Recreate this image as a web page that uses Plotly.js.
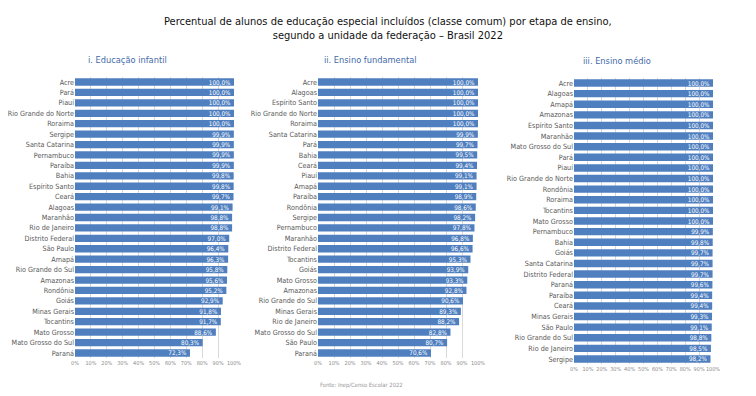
<!DOCTYPE html>
<html>
<head>
<meta charset="utf-8">
<script src="https://cdn.plot.ly/plotly-3.0.1.min.js"></script>
<style>html,body{margin:0;padding:0;background:#fff;}#chart{width:756px;height:396px;}</style>
</head>
<body>
<div id="chart"></div>
<script>
// i. Educação infantil
const infantilStates = ["Acre","Pará","Piauí","Rio Grande do Norte","Roraima","Sergipe","Santa Catarina","Pernambuco","Paraíba","Bahia","Espírito Santo","Ceará","Alagoas","Maranhão","Rio de Janeiro","Distrito Federal","São Paulo","Amapá","Rio Grande do Sul","Amazonas","Rondônia","Goiás","Minas Gerais","Tocantins","Mato Grosso","Mato Grosso do Sul","Paraná"];
const infantilValues = [100.0,100.0,100.0,100.0,100.0,99.9,99.9,99.9,99.9,99.8,99.8,99.7,99.1,98.8,98.8,97.0,96.4,96.3,95.8,95.6,95.2,92.9,91.8,91.7,88.6,80.3,72.3];

// ii. Ensino fundamental
const fundamentalStates = ["Acre","Alagoas","Espírito Santo","Rio Grande do Norte","Roraima","Santa Catarina","Pará","Bahia","Ceará","Piauí","Amapá","Paraíba","Rondônia","Sergipe","Pernambuco","Maranhão","Distrito Federal","Tocantins","Goiás","Mato Grosso","Amazonas","Rio Grande do Sul","Minas Gerais","Rio de Janeiro","Mato Grosso do Sul","São Paulo","Paraná"];
const fundamentalValues = [100.0,100.0,100.0,100.0,100.0,99.9,99.7,99.5,99.4,99.1,99.1,98.9,98.6,98.2,97.8,96.8,96.6,95.3,93.9,93.3,92.8,90.6,89.3,88.2,82.8,80.7,70.6];

// iii. Ensino médio
const medioStates = ["Acre","Alagoas","Amapá","Amazonas","Espírito Santo","Maranhão","Mato Grosso do Sul","Pará","Piauí","Rio Grande do Norte","Rondônia","Roraima","Tocantins","Mato Grosso","Pernambuco","Bahia","Goiás","Santa Catarina","Distrito Federal","Paraná","Paraíba","Ceará","Minas Gerais","São Paulo","Rio Grande do Sul","Rio de Janeiro","Sergipe"];
const medioValues = [100.0,100.0,100.0,100.0,100.0,100.0,100.0,100.0,100.0,100.0,100.0,100.0,100.0,100.0,99.9,99.8,99.7,99.7,99.7,99.6,99.4,99.4,99.3,99.1,98.8,98.5,98.2];

const tickVals = [0,10,20,30,40,50,60,70,80,90,100];
const tickText = ["0%","10%","20%","30%","40%","50%","60%","70%","80%","90%","100%"];

const FONT = "DejaVu Sans Condensed, Liberation Sans Narrow, Liberation Sans, sans-serif";
const BAR = "#4f7fbf";

function barTrace(states, values, xa, ya){
  return {
    type:"bar", orientation:"h", x:values, y:states, xaxis:xa, yaxis:ya,
    marker:{color:BAR, line:{width:0}},
    texttemplate:"%{x:.1f}%", textposition:"inside", insidetextanchor:"end",
    textangle:0, constraintext:"none",
    textfont:{color:"#ffffff", size:6.3, family:FONT},
    hoverinfo:"skip", showlegend:false
  };
}

const data = [
  barTrace(infantilStates, infantilValues, "x", "y"),
  barTrace(fundamentalStates, fundamentalValues, "x2", "y2"),
  barTrace(medioStates, medioValues, "x3", "y3")
];

function xax(dom, anchor){
  return {domain:dom, anchor:anchor, range:[0,100], tickvals:tickVals, ticktext:tickText,
    tickangle:0, automargin:false,
    showgrid:true, gridcolor:"#d9d9d9", gridwidth:1, zeroline:false, showline:false,
    ticks:"", tickfont:{size:5.5, color:"#8c8c8c", family:FONT}, fixedrange:true};
}
function yax(dom, anchor){
  return {domain:dom, anchor:anchor, type:"category", autorange:"reversed", automargin:false,
    showgrid:false, zeroline:false, showline:false, ticks:"", ticklen:0,
    tickfont:{size:7.2, color:"#595959", family:FONT}, fixedrange:true};
}

const layout = {
  width:756, height:396,
  margin:{l:0, r:0, t:0, b:0},
  paper_bgcolor:"#ffffff", plot_bgcolor:"rgba(0,0,0,0)",
  separators:",.",
  bargap:0.3,
  font:{family:FONT},
  xaxis: xax([75/756, 234/756], "y"),
  yaxis: yax([1-358.2/396, 1-76.8/396], "x"),
  xaxis2: xax([318/756, 478/756], "y2"),
  yaxis2: yax([1-358.2/396, 1-76.8/396], "x2"),
  xaxis3: xax([574/756, 713/756], "y3"),
  yaxis3: yax([1-364.3/396, 1-77.7/396], "x3"),
  annotations:[
    {text:"Percentual de alunos de educação especial incluídos (classe comum) por etapa de ensino,<br>segundo a unidade da federação – Brasil 2022",
     xref:"paper", yref:"paper", x:388/756, y:1-28.5/396, xanchor:"center", yanchor:"middle",
     showarrow:false, font:{size:11, color:"#111111", family:FONT}},
    {text:"i. Educação infantil", xref:"paper", yref:"paper", x:127/756, y:1-60/396,
     xanchor:"center", yanchor:"middle", showarrow:false, font:{size:9.2, color:"#3f6aa8", family:FONT}},
    {text:"ii. Ensino fundamental", xref:"paper", yref:"paper", x:370/756, y:1-60/396,
     xanchor:"center", yanchor:"middle", showarrow:false, font:{size:9.2, color:"#3f6aa8", family:FONT}},
    {text:"iii. Ensino médio", xref:"paper", yref:"paper", x:617/756, y:1-61/396,
     xanchor:"center", yanchor:"middle", showarrow:false, font:{size:9.2, color:"#3f6aa8", family:FONT}},
    {text:"Fonte: Inep/Censo Escolar 2022", xref:"paper", yref:"paper", x:361/756, y:1-385/396,
     xanchor:"center", yanchor:"middle", showarrow:false, font:{size:5.8, color:"#999999", family:FONT}}
  ]
};

Plotly.newPlot("chart", data, layout, {displayModeBar:false, staticPlot:true});
</script>
</body>
</html>
